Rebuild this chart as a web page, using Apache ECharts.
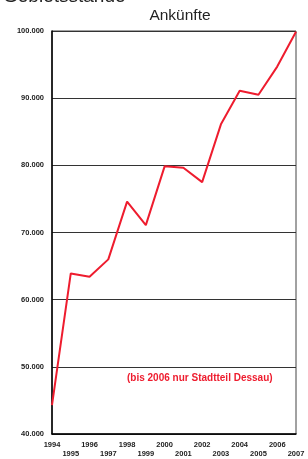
<!DOCTYPE html>
<html><head><meta charset="utf-8">
<script src="https://cdn.jsdelivr.net/npm/echarts@6/dist/echarts.min.js"></script>
<style>html,body{margin:0;padding:0;background:#fff}#c{width:308px;height:459px}</style>
</head><body><div id="c"></div>
<script>
var years = ['1994','1995','1996','1997','1998','1999','2000','2001','2002','2003','2004','2005','2006','2007'];
var arrivals = [44300, 63900, 63400, 66000, 74600, 71100, 79850, 79650, 77500, 86100, 91100, 90500, 94700, 99900];
var yTicks = [40000, 50000, 60000, 70000, 80000, 90000, 100000];

var chart = echarts.init(document.getElementById('c'));
chart.setOption({
  animation: false,
  backgroundColor: '#fff',
  title: [
    {text: 'Ankünfte', left: 175, top: 3, textAlign: 'center',
     textStyle: {fontFamily: 'Liberation Sans', fontSize: 15.5, fontWeight: 'normal', color: '#222'}},
    {text: 'Gebietsstände', left: -2, top: -18,
     textStyle: {fontFamily: 'Liberation Sans', fontSize: 19, fontWeight: 'normal', color: '#222'}}
  ],
  grid: {left: 52, right: 12, top: 31, bottom: 25, show: true, borderColor: '#444', borderWidth: 1,
         containLabel: false, outerBoundsMode: 'none'},
  xAxis: {
    type: 'category', data: years, boundaryGap: false,
    axisLine: {lineStyle: {color: '#000', width: 1.5}},
    axisTick: {show: false},
    axisLabel: {interval: 0, margin: 6, fontFamily: 'Liberation Sans', fontSize: 7.5, fontWeight: 'bold', color: '#222', lineHeight: 9.5,
      formatter: function (v, i) { return (i % 2 === 1) ? '\n' + v : v; }},
    splitLine: {show: false}
  },
  yAxis: {
    type: 'value', min: 40000, max: 100000, interval: 10000,
    axisLine: {show: true, lineStyle: {color: '#000', width: 1.5}},
    axisTick: {show: false},
    axisLabel: {margin: 8, fontFamily: 'Liberation Sans', fontSize: 7.5, fontWeight: 'bold', color: '#222',
      formatter: function (v) { return yTicks.indexOf(v) >= 0 ? (v / 1000).toFixed(3) : ''; }},
    splitLine: {show: true, lineStyle: {color: '#333', width: 1}}
  },
  series: [{
    type: 'line', data: arrivals, symbol: 'none',
    lineStyle: {color: '#ee1c2e', width: 2}
  }],
  graphic: [{
    type: 'text', left: 127, top: 373,
    style: {text: '(bis 2006 nur Stadtteil Dessau)', fill: '#ee1c2e', font: 'bold 10px "Liberation Sans"'}
  }]
});
</script>
</body></html>
